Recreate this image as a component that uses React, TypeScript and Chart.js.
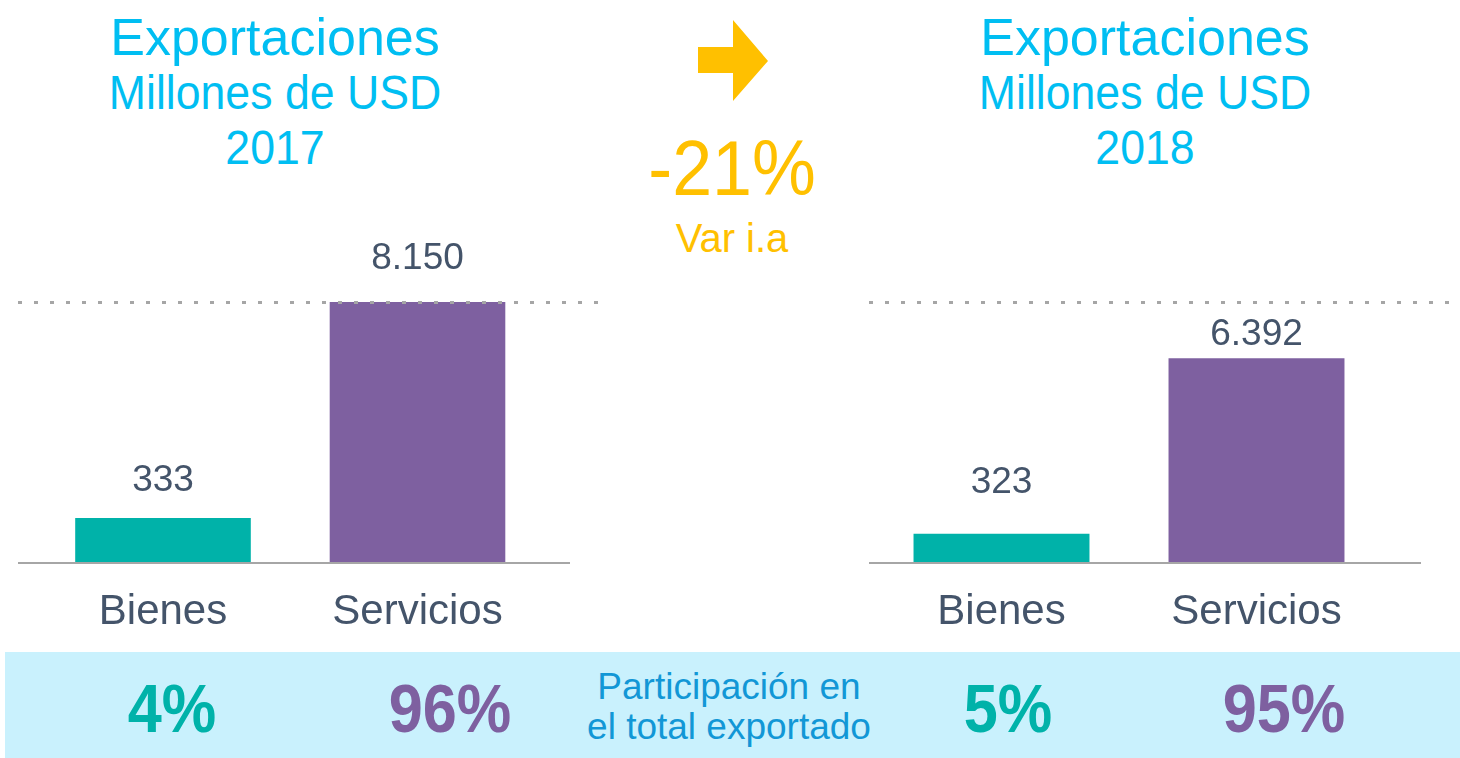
import React, { useEffect, useRef } from "react";
import { Chart, registerables } from "chart.js";

Chart.register(...registerables);

// ---- data ----
const categories = ["Bienes", "Servicios"];
const years = ["2017", "2018"];
const bienes = [333, 323];
const servicios = [8150, 6392];

// ---- style ----
const FONT = '"Liberation Sans", Arial, Helvetica, sans-serif';
const TEAL = "#00B2A9";
const PURPLE = "#7E60A0";
const CYAN = "#00BEF2";
const GOLD = "#FFC000";
const DARK = "#44546A";
const GREY = "#A6A6A6";
const BLUE = "#1297D6";
const BAND = "#C9F1FD";

const fmt = (v: number) => String(v).replace(/\B(?=(\d{3})+(?!\d))/g, ".");
const share = (a: number, b: number) => Math.round((a / (a + b)) * 100);

type PanelCfg = {
  yearIdx: number;
  left: number;
  top: number;
  width: number;
  height: number;
  padLeft: number;
  padRight: number;
  padTop: number;
  axisFrom: number;
  axisTo: number;
  dotFrom: number;
  dotTo: number;
  bienesAxisMax: number;
  labelGaps: number[];
};

const linesPlugin = {
  id: "refLines",
  afterDatasetsDraw(chart: any, _args: any, opts: any) {
    const ctx = chart.ctx;
    const y = chart.scales.y;
    ctx.save();
    // dotted reference line at the maximum value
    const yRef = Math.round(y.getPixelForValue(opts.refValue)) + 0.5;
    ctx.strokeStyle = GREY;
    ctx.lineWidth = 3;
    ctx.setLineDash([4, 12]);
    ctx.beginPath();
    ctx.moveTo(opts.dotFrom, yRef);
    ctx.lineTo(opts.dotTo, yRef);
    ctx.stroke();
    // baseline
    ctx.setLineDash([]);
    ctx.lineWidth = 2;
    const y0 = Math.round(y.getPixelForValue(0));
    ctx.beginPath();
    ctx.moveTo(opts.axisFrom, y0);
    ctx.lineTo(opts.axisTo, y0);
    ctx.stroke();
    ctx.restore();
  },
};

const labelsPlugin = {
  id: "valueLabels",
  afterDatasetsDraw(chart: any, _args: any, opts: any) {
    const ctx = chart.ctx;
    ctx.save();
    ctx.font = `37px ${FONT}`;
    ctx.fillStyle = DARK;
    ctx.textAlign = "center";
    ctx.textBaseline = "alphabetic";
    chart.data.datasets.forEach((ds: any, di: number) => {
      const meta = chart.getDatasetMeta(di);
      meta.data.forEach((bar: any, i: number) => {
        const v = ds.data[i];
        if (v == null) return;
        ctx.fillText(fmt(v), bar.x, bar.y - opts.gaps[i]);
      });
    });
    ctx.restore();
  },
};

function BarPanel({ cfg }: { cfg: PanelCfg }) {
  const ref = useRef<HTMLCanvasElement | null>(null);
  useEffect(() => {
    if (!ref.current) return;
    const b = bienes[cfg.yearIdx];
    const s = servicios[cfg.yearIdx];
    const chart = new Chart(ref.current, {
      type: "bar",
      data: {
        labels: categories,
        datasets: [
          {
            label: categories[0],
            data: [b, null],
            yAxisID: "yB",
            backgroundColor: TEAL,
            grouped: false,
            barPercentage: 0.69,
            categoryPercentage: 1,
          } as any,
          {
            label: categories[1],
            data: [null, s],
            yAxisID: "y",
            backgroundColor: PURPLE,
            grouped: false,
            barPercentage: 0.69,
            categoryPercentage: 1,
          } as any,
        ],
      },
      options: {
        animation: false,
        responsive: false,
        maintainAspectRatio: false,
        layout: { padding: { left: cfg.padLeft, right: cfg.padRight, top: cfg.padTop, bottom: 0 } },
        plugins: {
          legend: { display: false },
          tooltip: { enabled: false },
          refLines: {
            refValue: Math.max(...servicios),
            axisFrom: cfg.axisFrom,
            axisTo: cfg.axisTo,
            dotFrom: cfg.dotFrom,
            dotTo: cfg.dotTo,
          },
          valueLabels: { gaps: cfg.labelGaps },
        } as any,
        scales: {
          x: {
            grid: { display: false, drawTicks: false },
            border: { display: false },
            ticks: { font: { size: 42, family: FONT }, color: DARK, padding: 24 },
            afterFit: (sc: any) => {
              sc.height = cfg.height - cfg.padTop - 261;
            },
          },
          y: { display: false, min: 0, max: Math.max(...servicios) },
          yB: { display: false, min: 0, max: cfg.bienesAxisMax },
        } as any,
      },
      plugins: [linesPlugin, labelsPlugin],
    });
    return () => chart.destroy();
  }, [cfg]);
  return (
    <canvas
      ref={ref}
      width={cfg.width}
      height={cfg.height}
      style={{ position: "absolute", left: cfg.left, top: cfg.top, width: cfg.width, height: cfg.height }}
    />
  );
}

function T(props: {
  x: number;
  baseline: number;
  size: number;
  color: string;
  text: string;
  bold?: boolean;
  sx?: number;
}) {
  const { x, baseline, size, color, text, bold, sx } = props;
  return (
    <div
      style={{
        position: "absolute",
        left: x - 400,
        width: 800,
        top: baseline - 0.8465 * size,
        fontSize: size,
        lineHeight: `${size}px`,
        fontFamily: FONT,
        fontWeight: bold ? 700 : 400,
        color,
        textAlign: "center",
        whiteSpace: "nowrap",
        transform: sx ? `scaleX(${sx})` : undefined,
      }}
    >
      {text}
    </div>
  );
}

const leftCfg: PanelCfg = {
  yearIdx: 0,
  left: 0,
  top: 230,
  width: 610,
  height: 410,
  padLeft: 35.75,
  padRight: 65.25,
  padTop: 72,
  axisFrom: 18,
  axisTo: 570,
  dotFrom: 18,
  dotTo: 600,
  bienesAxisMax: 1930,
  labelGaps: [27, 33],
};

const rightCfg: PanelCfg = {
  yearIdx: 1,
  left: 860,
  top: 230,
  width: 600,
  height: 410,
  padLeft: 14,
  padRight: 76,
  padTop: 72,
  axisFrom: 9,
  axisTo: 561,
  dotFrom: 9,
  dotTo: 592,
  bienesAxisMax: 2880,
  labelGaps: [41, 13],
};

export default function App() {
  const tot17 = bienes[0] + servicios[0];
  const tot18 = bienes[1] + servicios[1];
  const variation = Math.round(((tot18 - tot17) / tot17) * 100);
  return (
    <div
      style={{
        position: "absolute",
        left: 0,
        top: 0,
        width: 1460,
        height: 758,
        background: "#FFFFFF",
        overflow: "hidden",
        fontFamily: FONT,
      }}
    >
      {/* titles */}
      <T x={275} baseline={55} size={52} color={CYAN} text="Exportaciones" />
      <T x={275} baseline={110} size={48} sx={0.93} color={CYAN} text="Millones de USD" />
      <T x={275} baseline={165} size={48} sx={0.93} color={CYAN} text={years[0]} />
      <T x={1145} baseline={55} size={52} color={CYAN} text="Exportaciones" />
      <T x={1145} baseline={110} size={48} sx={0.93} color={CYAN} text="Millones de USD" />
      <T x={1145} baseline={165} size={48} sx={0.93} color={CYAN} text={years[1]} />

      {/* arrow + variation */}
      <svg width={1460} height={120} style={{ position: "absolute", left: 0, top: 0 }}>
        <polygon points="698,47 733,47 733,20 768,61 733,101 733,73 698,73" fill={GOLD} />
      </svg>
      <T x={732} baseline={195} size={78} sx={0.92} color={GOLD} text={`${variation}%`} />
      <T x={732} baseline={252} size={40} color={GOLD} text="Var i.a" />

      {/* charts */}
      <BarPanel cfg={leftCfg} />
      <BarPanel cfg={rightCfg} />

      {/* bottom band */}
      <div style={{ position: "absolute", left: 5, top: 652, width: 1455, height: 106, background: BAND }} />
      <T x={172} baseline={732} size={68} sx={0.9} bold color={TEAL} text={`${share(bienes[0], servicios[0])}%`} />
      <T x={450} baseline={732} size={68} sx={0.9} bold color={PURPLE} text={`${share(servicios[0], bienes[0])}%`} />
      <T x={1008} baseline={732} size={68} sx={0.9} bold color={TEAL} text={`${share(bienes[1], servicios[1])}%`} />
      <T x={1284} baseline={732} size={68} sx={0.9} bold color={PURPLE} text={`${share(servicios[1], bienes[1])}%`} />
      <T x={729} baseline={699} size={37} color={BLUE} text="Participación en" />
      <T x={729} baseline={739} size={37} color={BLUE} text="el total exportado" />
    </div>
  );
}
